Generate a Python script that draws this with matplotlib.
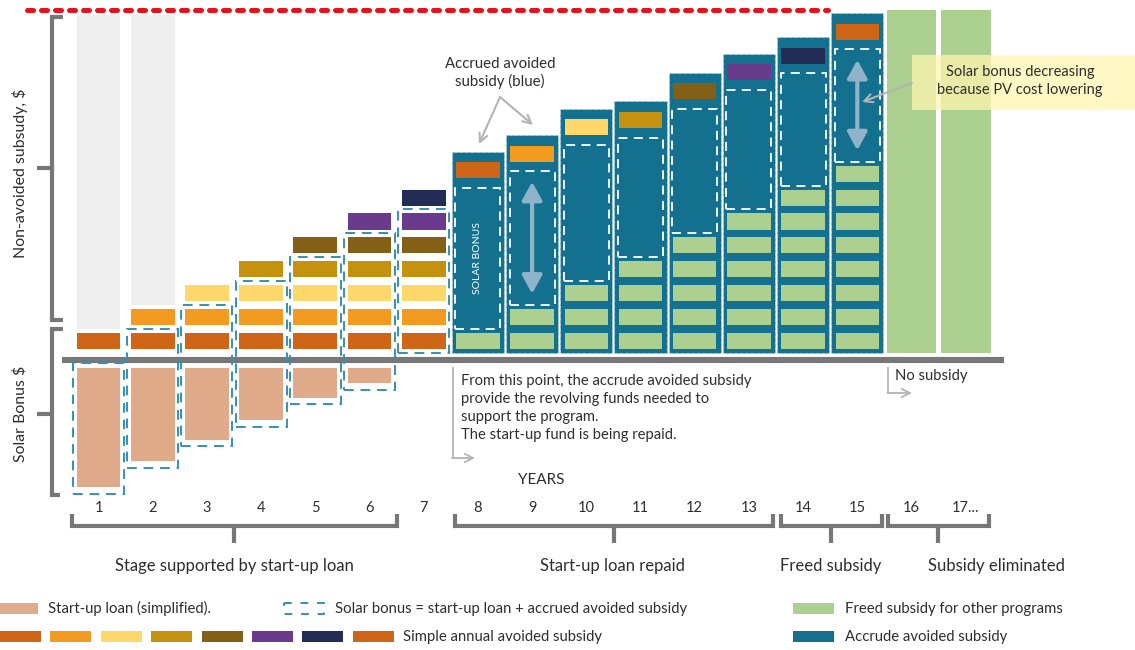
import matplotlib
matplotlib.use("Agg")
import matplotlib.pyplot as plt
from matplotlib.patches import Rectangle, FancyArrowPatch

plt.rcParams['font.family'] = ['Lato', 'DejaVu Sans']

# one y unit = one block of simple annual avoided subsidy
year_labels = ['1', '2', '3', '4', '5', '6', '7', '8', '9', '10',
               '11', '12', '13', '14', '15', '16', '17...']
block_colors = ['#cf6516', '#f39a20', '#fed86a', '#c4920e',
                '#836015', '#6a3b8c', '#222c54', '#cf6516']
stage_years = [1, 2, 3, 4, 5, 6, 7]
gray_years = [1, 2]
loan_years = [1, 2, 3, 4, 5, 6]
loan_amount = [5.0, 3.9, 3.0, 2.2, 1.25, 0.65]
repaid_years = [8, 9, 10, 11, 12, 13, 14, 15]
solar_bonus = [5.9, 5.6, 5.7, 5.0, 5.2, 5.0, 4.7, 4.7]
free_years = [16, 17]
ceiling = 14.65

TEAL = '#13718f'
GREEN = '#abd08f'
LOAN = '#e0ab8b'
GRAYCOL = '#eeeeee'
DASHBLUE = '#3390b2'
AXGRAY = '#777777'
TXT = '#2e2e2e'
ARROW = '#b4b4b4'

BW, BH = 0.81, 0.67
X0, DX, Y0, DY = 98.5, 54.2, 360, 23.9
W, H = 1135, 650


def block_bottom(k):
    return k - 0.54


def dashed_box(ax, x, y0, y1, w, color, lw=1.4):
    ax.add_patch(Rectangle((x - w / 2, y0), w, y1 - y0, fill=False, ec=color,
                           lw=lw, ls=(0, (5, 3.5)), zorder=5))


fig = plt.figure(figsize=(W / 100, H / 100), dpi=100)
ax = fig.add_axes([0, 0, 1, 1])
ax.set_xlim((0 - X0) / DX + 1, (W - X0) / DX + 1)
ax.set_ylim((Y0 - H) / DY, Y0 / DY)
ax.axis('off')

# ceiling of the subsidy
ax.plot([-0.32, 14.46], [ceiling, ceiling], color='#e8101b', lw=3.6,
        ls=(0, (1.2, 1.6)), solid_capstyle='round', dash_capstyle='round', zorder=6)

# years 1-7: stacked annual blocks, loan below the axis
for n in stage_years:
    for k in range(1, n + 1):
        ax.add_patch(Rectangle((n - BW / 2, block_bottom(k)), BW, BH,
                               fc=block_colors[k - 1], ec='none', zorder=3))
    top = n - 1 + 0.3 if n > 1 else -0.13
    if n in loan_years:
        amt = loan_amount[loan_years.index(n)]
        ax.add_patch(Rectangle((n - BW / 2, -0.33 - amt), BW, amt,
                               fc=LOAN, ec='none', zorder=3))
        bottom = -0.33 - amt - 0.27
    else:
        bottom = 0.29
    dashed_box(ax, n, bottom, top, 0.94, DASHBLUE)

for n in gray_years:
    ax.add_patch(Rectangle((n - BW / 2, n + 0.3), BW, ceiling - 0.22 - (n + 0.3),
                           fc=GRAYCOL, ec='none', zorder=2))

# years 8-15: accrued avoided subsidy columns
for i, n in enumerate(repaid_years):
    g = n - 7
    box_lo = g + 0.3
    box_hi = box_lo + solar_bonus[i]
    blk = box_hi + 0.4
    top = blk + BH + 0.45
    ax.add_patch(Rectangle((n - 0.48, 0.29), 0.96, top - 0.29, fc=TEAL,
                           ec=(1, 1, 1, 0.3), lw=0.8, ls=(0, (3, 2)), zorder=2))
    for k in range(1, g + 1):
        ax.add_patch(Rectangle((n - 0.4, block_bottom(k)), 0.8, BH,
                               fc=GREEN, ec='none', zorder=3))
    ax.add_patch(Rectangle((n - 0.4, blk), 0.8, BH, fc=block_colors[n - 8],
                           ec='none', zorder=3))
    dashed_box(ax, n, box_lo, box_hi, 0.83, 'white', lw=1.3)
    if n in (9, 15):
        ax.add_patch(FancyArrowPatch((n, box_lo + 0.47), (n, box_hi - 0.44),
                                     arrowstyle='<|-|>,head_width=6,head_length=11',
                                     color='#8fb3c8', lw=3, zorder=6,
                                     shrinkA=0, shrinkB=0))
    if n == 8:
        ax.text(n, (box_lo + box_hi) / 2, 'SOLAR BONUS', rotation=90, color='white',
                fontsize=7.5, ha='center', va='center', zorder=7)

# years 16-17: freed subsidy
for n in free_years:
    ax.add_patch(Rectangle((n - 0.46, 0.29), 0.92, ceiling - 0.29,
                           fc=GREEN, ec='none', zorder=2))

# baseline
ax.plot([0.33, 17.71], [0, 0], color=AXGRAY, lw=4.4, solid_capstyle='butt', zorder=4)

for i, lab in enumerate(year_labels):
    ax.text(i + 1, (Y0 - 508) / DY, lab, ha='center', va='center',
            fontsize=10.5, color=TXT)

# decorations in pixel coordinates
deco = fig.add_axes([0, 0, 1, 1], zorder=10)
deco.set_xlim(0, W)
deco.set_ylim(H, 0)
deco.axis('off')
deco.patch.set_alpha(0)

kw = dict(color=AXGRAY, lw=3, solid_capstyle='butt', solid_joinstyle='miter')
deco.plot([63, 52, 52, 63], [17, 17, 320, 320], **kw)
deco.plot([37, 52], [168, 168], **kw)
deco.plot([63, 52, 52, 60], [329, 329, 495, 495], **kw)
deco.plot([37, 52], [414, 414], **kw)
deco.text(20, 173, 'Non-avoided subsudy, $', rotation=90, ha='center', va='center',
          fontsize=11.4, color=TXT)
deco.text(20, 414, 'Solar Bonus $', rotation=90, ha='center', va='center',
          fontsize=11.4, color=TXT)

for x0, x1, xm in [(72, 397, 234), (455, 773, 614), (781, 882, 831), (888, 989, 938)]:
    deco.plot([x0, x0, x1, x1], [514, 526, 526, 514], **kw)
    deco.plot([xm, xm], [526, 543], **kw)
gkw = dict(fontsize=12, color=TXT, va='center')
deco.text(234, 566, 'Stage supported by start-up loan', ha='center', **gkw)
deco.text(612, 566, 'Start-up loan repaid', ha='center', **gkw)
deco.text(831, 566, 'Freed subsidy', ha='center', **gkw)
deco.text(928, 566, 'Subsidy eliminated', ha='left', **gkw)
deco.text(541, 480, 'YEARS', ha='center', va='center', fontsize=11, color=TXT)

# annotations
deco.text(500, 73, 'Accrued avoided\nsubsidy (blue)', ha='center', va='center',
          fontsize=10.8, color=TXT, linespacing=1.3)
for end in [(479, 144), (533, 125)]:
    deco.add_patch(FancyArrowPatch((500, 97), end, arrowstyle='->,head_width=3,head_length=6',
                                   color=ARROW, lw=1.5, shrinkA=0, shrinkB=0))

deco.add_patch(Rectangle((912, 55), W - 912, 55, fc='#fff5b0', ec='none', alpha=0.75))
deco.text(1020, 81, 'Solar bonus decreasing\nbecause PV cost lowering', ha='center',
          va='center', fontsize=10.5, color=TXT, linespacing=1.3)
deco.add_patch(FancyArrowPatch((912, 83), (862, 102), arrowstyle='->,head_width=3,head_length=6',
                               color=ARROW, lw=1.5, shrinkA=0, shrinkB=0))

deco.text(461, 408, 'From this point, the accrude avoided subsidy\n'
          'provide the revolving funds needed to\nsupport the program.\n'
          'The start-up fund is being repaid.', ha='left', va='center',
          fontsize=10.6, color=TXT, linespacing=1.35)
deco.plot([452.5, 452.5], [368, 458], color=ARROW, lw=1.3)
deco.add_patch(FancyArrowPatch((452, 458), (475, 458), arrowstyle='->,head_width=3,head_length=6',
                               color=ARROW, lw=1.3, shrinkA=0, shrinkB=0))
deco.text(895, 376, 'No subsidy', ha='left', va='center', fontsize=10.6, color=TXT)
deco.plot([888, 888], [368, 393], color=ARROW, lw=1.3)
deco.add_patch(FancyArrowPatch((887.5, 393), (912, 393), arrowstyle='->,head_width=3,head_length=6',
                               color=ARROW, lw=1.3, shrinkA=0, shrinkB=0))

# legend
lkw = dict(fontsize=10.7, color=TXT, va='center')
deco.add_patch(Rectangle((0, 603), 38, 11, fc=LOAN, ec='none'))
deco.text(48, 608.5, 'Start-up loan (simplified).', **lkw)
deco.add_patch(Rectangle((284, 603), 40, 11, fill=False, ec=DASHBLUE, lw=1.4,
                         ls=(0, (4, 4.5))))
deco.text(335, 608.5, 'Solar bonus = start-up loan + accrued avoided subsidy', **lkw)
deco.add_patch(Rectangle((793, 603), 41, 11, fc=GREEN, ec='none'))
deco.text(845, 608.5, 'Freed subsidy for other programs', **lkw)
for i, c in enumerate(block_colors):
    deco.add_patch(Rectangle((i * 50.4, 631), 41, 11, fc=c, ec='none'))
deco.text(403, 636.5, 'Simple annual avoided subsidy', **lkw)
deco.add_patch(Rectangle((793, 631), 41, 11, fc=TEAL, ec='none'))
deco.text(845, 636.5, 'Accrude avoided subsidy', **lkw)

fig.savefig('out.png', dpi=100, facecolor='white')
